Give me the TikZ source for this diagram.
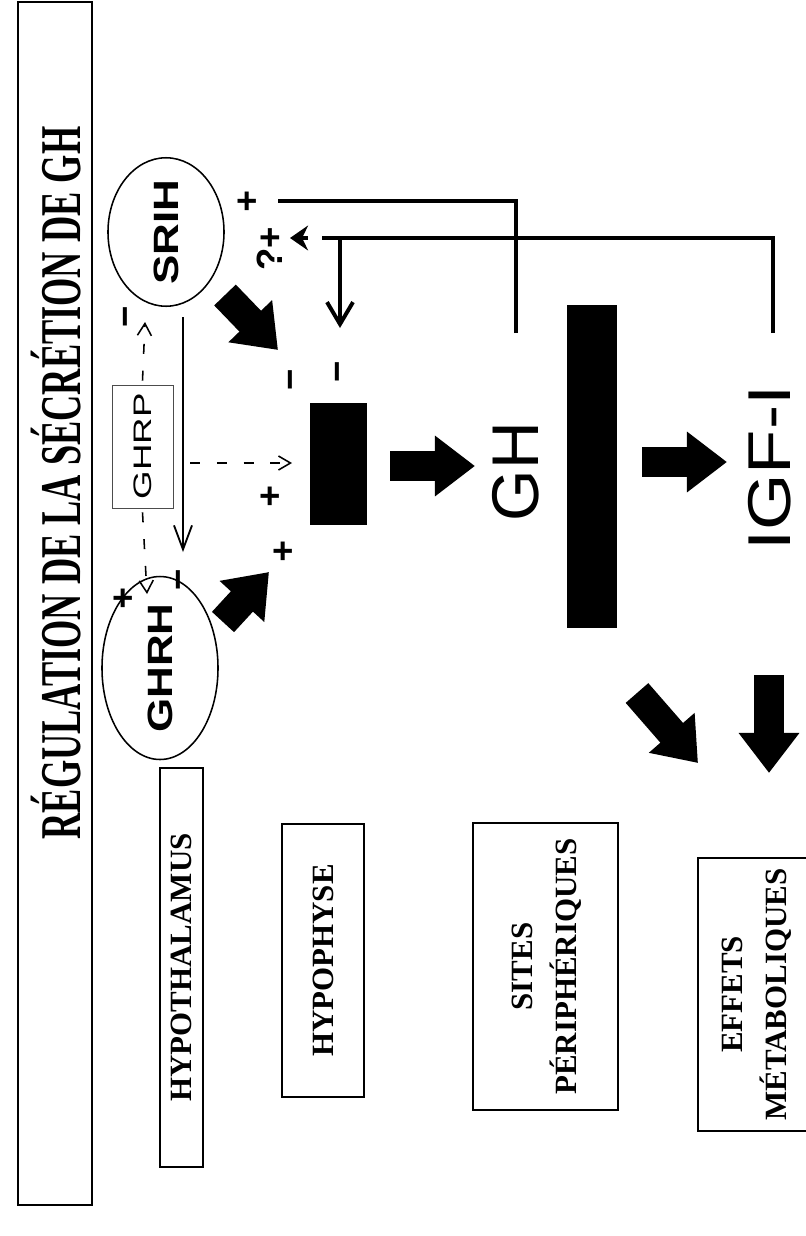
\documentclass[tikz,border=0pt]{standalone}
\usepackage{fontspec}
\setmainfont{Liberation Serif}
\setsansfont{Liberation Sans}
\usetikzlibrary{arrows.meta,shapes.geometric}
% text turned a quarter turn, read from bottom to top
\newcommand{\vtext}[1]{\rotatebox{90}{#1}}
\tikzset{
  lvl/.style={draw, line width=1pt, inner sep=0pt, font=\fontsize{22}{31}\selectfont\bfseries},
  hormone/.style={draw, ellipse, line width=1.1pt, inner sep=0pt, minimum width=2.9cm, minimum height=3.25cm, font=\fontsize{25}{28}\selectfont\sffamily\bfseries},
  blk/.style={fill=black, inner sep=0pt},
  fatarrow/.style={line width=0.75cm, -{Triangle[length=1cm,width=1.45cm]}},
  fb/.style={line width=2.8pt},
  thinarrow/.style={line width=1.3pt, -{Straight Barb[length=0.6cm,width=0.45cm]}},
  dsh/.style={line width=1.1pt, dash pattern=on 0.25cm off 0.42cm, -{Straight Barb[length=0.3cm,width=0.35cm]}},
  sign/.style={inner sep=0pt, font=\fontsize{26}{28}\selectfont\sffamily\bfseries},
}
\begin{document}
\begin{tikzpicture}[x=0.025cm, y=-0.025cm]
\useasboundingbox (0,0) rectangle (805,1236);
% title
\node[draw, line width=1pt, minimum width=1.85cm, minimum height=30.075cm] (titlebox) at (55,603.5) {};
\node[inner sep=0pt, font=\fontsize{41}{44}\selectfont\bfseries] (title) at (56,483)
  {\vtext{\scalebox{0.63}[1]{RÉGULATION DE LA SÉCRÉTION DE GH}}};
% levels
\node[lvl, minimum width=1.075cm, minimum height=9.975cm] (hypot) at (181.5,967.5) {\vtext{HYPOTHALAMUS}};
\node[lvl, minimum width=2.05cm, minimum height=6.825cm] (hypoph) at (323,960.5) {\vtext{HYPOPHYSE}};
\node[lvl, minimum width=3.625cm, minimum height=7.175cm] (sites) at (545.5,966.5)
  {\vtext{\begin{tabular}{@{}c@{}}SITES\\PÉRIPHÉRIQUES\end{tabular}}};
\node[lvl, minimum width=3.2cm, minimum height=6.825cm] (effets) at (762,994.5)
  {\hspace*{-0.3cm}\vtext{\begin{tabular}{@{}c@{}}EFFETS\\MÉTABOLIQUES\end{tabular}}};
% hypothalamic factors
\node[hormone] (ghrh) at (160,668) {\vtext{\scalebox{1.25}[1]{GHRH}}};
\node[hormone] (srih) at (166,232) {\vtext{\scalebox{1.25}[1]{SRIH}}};
\node[draw=black!70, line width=0.6pt, inner sep=0pt, minimum width=1.525cm, minimum height=3.075cm,
  font=\fontsize{18}{20}\selectfont\sffamily] (ghrp) at (142.5,446.5) {\vtext{\scalebox{1.45}[1]{GHRP}}};
% pituitary and peripheral blocks
\node[blk, minimum width=1.425cm, minimum height=3.05cm] (pit) at (338.5,464) {};
\node[blk, minimum width=1.25cm, minimum height=8.075cm] (bar) at (592,466.5) {};
\node[inner sep=0pt, font=\fontsize{47}{50}\selectfont\sffamily] (gh) at (516,471.5) {\vtext{GH}};
\node[inner sep=0pt, font=\fontsize{43}{46}\selectfont\sffamily] (igf) at (770,468) {\vtext{\scalebox{1.2}[1]{IGF-I}}};
% ends of connectors
\coordinate (srihA) at (225,295);
\coordinate (pitS) at (278,350);
\coordinate (ghrhA) at (223,622);
\coordinate (pitG) at (269,572);
\coordinate (pitR) at (390,466);
\coordinate (ghL) at (475,466);
\coordinate (ghR) at (642,462);
\coordinate (igfL) at (727,462);
\coordinate (barB) at (637,693);
\coordinate (effA) at (698,763);
\coordinate (igfB) at (769,675);
\coordinate (effB) at (769,773);
\coordinate (ghT) at (516,333);
\coordinate (srihB) at (278,201);
\coordinate (igfT) at (773,333);
\coordinate (fbEnd) at (322,238);
\coordinate (fbTip) at (308,238);
\coordinate (fbHead) at (290,238);
\coordinate (fbDown) at (340,238);
\coordinate (pitT) at (340,328);
\coordinate (srihD) at (183,317);
\coordinate (ghrhU) at (183,552);
% big arrows
\draw[fatarrow] (srihA) -- (pitS);
\draw[fatarrow] (ghrhA) -- (pitG);
\draw[fatarrow] (pitR) -- (ghL);
\draw[fatarrow] (ghR) -- (igfL);
\draw[fatarrow] (barB) -- (effA);
\draw[fatarrow] (igfB) -- (effB);
% feedback loops
\draw[fb] (ghT) |- (srihB);
\draw[fb] (igfT) |- (fbEnd);
\draw[fb, -{Stealth[length=0.45cm,width=0.62cm]}] (fbTip) -- (fbHead);
\draw[fb, -{Straight Barb[length=0.55cm,width=0.65cm]}] (fbDown) -- (pitT);
% SRIH on GHRH
\draw[thinarrow] (srihD) -- (ghrhU);
% GHRP actions
\draw[dsh] (ghrp.north) ++(0,-4) coordinate (ghrpN) (ghrpN) -- (145,322);
\draw[dsh] (ghrp.south) ++(0,4) coordinate (ghrpS) (ghrpS) -- (147,594);
\draw[dsh] (190,463) coordinate (ghrpE) (ghrpE) -- (292,463);
% signs
\node[sign] (s1) at (247,203) {+};
\node[sign] (s2) at (270,249) {\vtext{?+}};
\node[sign] (s3) at (130,317) {\vtext{−}};
\node[sign] (s4) at (123,600) {+};
\node[sign] (s5) at (183,580) {\vtext{−}};
\node[sign] (s6) at (270,498) {+};
\node[sign] (s7) at (283,553) {+};
\node[sign] (s8) at (295,380) {\vtext{−}};
\node[sign] (s9) at (342,372) {\vtext{−}};
\end{tikzpicture}
\end{document}
